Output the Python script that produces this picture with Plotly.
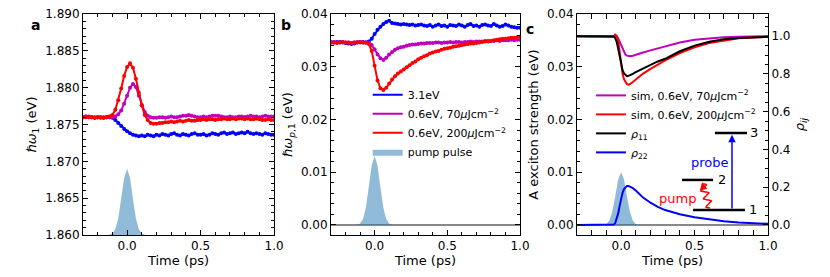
import numpy as np
import plotly.graph_objects as go

# ---------------- data ----------------
t_exp = np.round(np.arange(-0.30, 1.0001, 0.02), 2)  # 66 time points (ps)

a_blue = [1.8760, 1.8761, 1.8760, 1.8760, 1.8759, 1.8760, 1.8760, 1.8759, 1.8760, 1.8760,
          1.8759, 1.8756, 1.8752, 1.8748, 1.8744, 1.8741, 1.8738, 1.8736, 1.8735, 1.8734,
          1.8735, 1.8734, 1.8736, 1.8735, 1.8734, 1.8736, 1.8735, 1.8737, 1.8736, 1.8735,
          1.8737, 1.8738, 1.8736, 1.8735, 1.8737, 1.8736, 1.8735, 1.8737, 1.8738, 1.8736,
          1.8736, 1.8737, 1.8735, 1.8736, 1.8738, 1.8737, 1.8736, 1.8738, 1.8739, 1.8737,
          1.8738, 1.8739, 1.8737, 1.8738, 1.8739, 1.8738, 1.8740, 1.8738, 1.8737, 1.8738,
          1.8737, 1.8736, 1.8738, 1.8737, 1.8736, 1.8736]
a_purple = [1.8760, 1.8761, 1.8760, 1.8760, 1.8759, 1.8760, 1.8760, 1.8759, 1.8760, 1.8760,
            1.8760, 1.8761, 1.8764, 1.8769, 1.8778, 1.8789, 1.8800, 1.8805, 1.8801, 1.8789,
            1.8776, 1.8767, 1.8762, 1.8760, 1.8759, 1.8759, 1.8760, 1.8760, 1.8759, 1.8760,
            1.8761, 1.8760, 1.8760, 1.8761, 1.8762, 1.8762, 1.8763, 1.8762, 1.8761, 1.8760,
            1.8760, 1.8761, 1.8760, 1.8761, 1.8762, 1.8762, 1.8762, 1.8761, 1.8760, 1.8760,
            1.8761, 1.8760, 1.8760, 1.8761, 1.8761, 1.8760, 1.8761, 1.8762, 1.8761, 1.8761,
            1.8760, 1.8761, 1.8762, 1.8761, 1.8761, 1.8761]
a_red = [1.8760, 1.8760, 1.8761, 1.8760, 1.8760, 1.8760, 1.8759, 1.8760, 1.8760, 1.8761,
         1.8763, 1.8770, 1.8783, 1.8799, 1.8816, 1.8828, 1.8833, 1.8827, 1.8812, 1.8793,
         1.8776, 1.8763, 1.8756, 1.8752, 1.8751, 1.8751, 1.8752, 1.8752, 1.8753, 1.8753,
         1.8754, 1.8753, 1.8754, 1.8755, 1.8754, 1.8755, 1.8756, 1.8755, 1.8755, 1.8756,
         1.8756, 1.8757, 1.8756, 1.8757, 1.8757, 1.8756, 1.8757, 1.8757, 1.8758, 1.8757,
         1.8757, 1.8758, 1.8757, 1.8758, 1.8758, 1.8757, 1.8758, 1.8757, 1.8757, 1.8758,
         1.8757, 1.8756, 1.8756, 1.8757, 1.8756, 1.8756]

b_blue = [0.0347, 0.0346, 0.0347, 0.0347, 0.0346, 0.0345, 0.0344, 0.0343, 0.0344, 0.0346,
          0.0347, 0.0347, 0.0346, 0.0348, 0.0353, 0.0362, 0.0370, 0.0376, 0.0381, 0.0385,
          0.0387, 0.0383, 0.0382, 0.0381, 0.0380, 0.0381, 0.0380, 0.0379, 0.0380, 0.0378,
          0.0379, 0.0380, 0.0378, 0.0377, 0.0379, 0.0376, 0.0378, 0.0380, 0.0377, 0.0378,
          0.0376, 0.0379, 0.0378, 0.0377, 0.0380, 0.0378, 0.0376, 0.0379, 0.0381, 0.0377,
          0.0378, 0.0376, 0.0379, 0.0380, 0.0378, 0.0377, 0.0381, 0.0378, 0.0376, 0.0377,
          0.0380, 0.0378, 0.0376, 0.0375, 0.0374, 0.0374]
b_purple = [0.0346, 0.0347, 0.0346, 0.0346, 0.0347, 0.0346, 0.0346, 0.0345, 0.0346, 0.0347,
            0.0346, 0.0346, 0.0346, 0.0345, 0.0341, 0.0333, 0.0323, 0.0316, 0.0313, 0.0317,
            0.0323, 0.0328, 0.0332, 0.0335, 0.0337, 0.0338, 0.0340, 0.0341, 0.0342, 0.0342,
            0.0343, 0.0344, 0.0344, 0.0345, 0.0345, 0.0345, 0.0346, 0.0346, 0.0345, 0.0346,
            0.0346, 0.0347, 0.0346, 0.0347, 0.0347, 0.0346, 0.0347, 0.0347, 0.0348, 0.0347,
            0.0348, 0.0348, 0.0348, 0.0349, 0.0348, 0.0349, 0.0349, 0.0350, 0.0349, 0.0350,
            0.0350, 0.0350, 0.0351, 0.0350, 0.0351, 0.0351]
b_red = [0.0346, 0.0346, 0.0345, 0.0346, 0.0347, 0.0346, 0.0346, 0.0345, 0.0346, 0.0346,
         0.0347, 0.0346, 0.0346, 0.0343, 0.0330, 0.0302, 0.0274, 0.0259, 0.0256, 0.0260,
         0.0268, 0.0276, 0.0282, 0.0287, 0.0291, 0.0295, 0.0299, 0.0303, 0.0307, 0.0310,
         0.0314, 0.0317, 0.0320, 0.0322, 0.0325, 0.0327, 0.0329, 0.0330, 0.0332, 0.0334,
         0.0335, 0.0336, 0.0338, 0.0339, 0.0340, 0.0341, 0.0342, 0.0343, 0.0344, 0.0344,
         0.0345, 0.0346, 0.0347, 0.0348, 0.0349, 0.0349, 0.0350, 0.0351, 0.0352, 0.0353,
         0.0353, 0.0354, 0.0355, 0.0355, 0.0356, 0.0357]

t_sim = [-0.30, -0.10, -0.06, -0.05, -0.04, -0.03, -0.02, -0.01, 0.00, 0.01, 0.02, 0.03,
         0.04, 0.05, 0.06, 0.08, 0.10, 0.15, 0.20, 0.25, 0.30, 0.40, 0.50, 0.60, 0.70,
         0.80, 1.00]
sim_70 = [0.0358, 0.0358, 0.0358, 0.0358, 0.0358, 0.0357, 0.0354, 0.0348, 0.0340, 0.0333,
          0.0327, 0.0323, 0.0321, 0.0320, 0.0320, 0.0321, 0.0323, 0.0327, 0.0331, 0.0335,
          0.0339, 0.0346, 0.0351, 0.0354, 0.0356, 0.0357, 0.0358]
sim_200 = [0.0358, 0.0358, 0.0358, 0.0358, 0.0361, 0.0359, 0.0350, 0.0330, 0.0305, 0.0287,
           0.0276, 0.0270, 0.0267, 0.0266, 0.0267, 0.0271, 0.0276, 0.0287, 0.0296, 0.0304,
           0.0312, 0.0326, 0.0337, 0.0345, 0.0350, 0.0354, 0.0357]
rho_11 = [1.000, 1.000, 1.000, 0.998, 0.990, 0.970, 0.935, 0.890, 0.850, 0.820, 0.803,
          0.793, 0.788, 0.790, 0.793, 0.800, 0.810, 0.830, 0.850, 0.866, 0.880, 0.920,
          0.950, 0.970, 0.983, 0.990, 0.997]
rho_22 = [0.000, 0.000, 0.000, 0.002, 0.010, 0.030, 0.060, 0.100, 0.140, 0.170, 0.190,
          0.202, 0.207, 0.207, 0.204, 0.195, 0.183, 0.145, 0.118, 0.096, 0.079, 0.057,
          0.041, 0.029, 0.020, 0.013, 0.006]

pulse_t = [-0.14, -0.12, -0.10, -0.08, -0.06, -0.04, -0.02, 0.00, 0.02, 0.04, 0.06, 0.08,
           0.10, 0.12, 0.14]
pulse_shape = [0.0, 0.004, 0.021, 0.085, 0.25, 0.54, 0.86, 1.0, 0.86, 0.54, 0.25, 0.085,
               0.021, 0.004, 0.0]
pulse_amp_a, pulse_base_a = 0.009, 1.860
pulse_amp_b = 0.0131
pulse_amp_c = 0.0100

legend_b = ["3.1eV", "0.6eV, 70<i>μ</i>Jcm<sup>−2</sup>", "0.6eV, 200<i>μ</i>Jcm<sup>−2</sup>", "pump pulse"]
legend_c = ["sim, 0.6eV, 70<i>μ</i>Jcm<sup>−2</sup>", "sim, 0.6eV, 200<i>μ</i>Jcm<sup>−2</sup>",
            "<i>ρ</i><sub>11</sub>", "<i>ρ</i><sub>22</sub>"]

# ---------------- style ----------------
BLUE, PURPLE, RED, BLACK = "#0000ff", "#bf00bf", "#ff0000", "#000000"
PULSE = "rgba(31,119,180,0.5)"
FONT = "DejaVu Sans"

fig = go.Figure()

def exp_traces(x, y, color, xa, ya, name=None, legend=None, show=False):
    return [go.Scatter(x=x, y=y, mode="lines", xaxis=xa, yaxis=ya,
                       line=dict(color=color, width=2), name=name, legend=legend, showlegend=show),
            go.Scatter(x=x, y=y, mode="markers", xaxis=xa, yaxis=ya,
                       marker=dict(color=color, size=4), showlegend=False)]

# panel a
pa = [pulse_base_a + pulse_amp_a * s for s in pulse_shape]
fig.add_trace(go.Scatter(x=pulse_t, y=pa, mode="lines", fill="tozeroy", fillcolor=PULSE,
                         line=dict(width=0, color=PULSE), xaxis="x", yaxis="y", showlegend=False))
for tr in (exp_traces(t_exp, a_blue, BLUE, "x", "y") + exp_traces(t_exp, a_purple, PURPLE, "x", "y")
           + exp_traces(t_exp, a_red, RED, "x", "y")):
    fig.add_trace(tr)

# panel b
for tr in (exp_traces(t_exp, b_blue, BLUE, "x2", "y2", legend_b[0], "legend", True)
           + exp_traces(t_exp, b_purple, PURPLE, "x2", "y2", legend_b[1], "legend", True)
           + exp_traces(t_exp, b_red, RED, "x2", "y2", legend_b[2], "legend", True)):
    fig.add_trace(tr)
fig.add_trace(go.Scatter(x=pulse_t, y=[pulse_amp_b * s for s in pulse_shape], mode="lines",
                         fill="tozeroy", fillcolor=PULSE, line=dict(width=0, color=PULSE),
                         xaxis="x2", yaxis="y2", name=legend_b[3], legend="legend"))

# panel c
fig.add_trace(go.Scatter(x=pulse_t, y=[pulse_amp_c * s for s in pulse_shape], mode="lines",
                         fill="tozeroy", fillcolor=PULSE, line=dict(width=0, color=PULSE),
                         xaxis="x3", yaxis="y3", showlegend=False))
fig.add_trace(go.Scatter(x=t_sim, y=sim_70, mode="lines", line=dict(color=PURPLE, width=2),
                         xaxis="x3", yaxis="y3", name=legend_c[0], legend="legend2"))
fig.add_trace(go.Scatter(x=t_sim, y=sim_200, mode="lines", line=dict(color=RED, width=2),
                         xaxis="x3", yaxis="y3", name=legend_c[1], legend="legend2"))
fig.add_trace(go.Scatter(x=t_sim, y=rho_11, mode="lines", line=dict(color=BLACK, width=2),
                         xaxis="x3", yaxis="y4", name=legend_c[2], legend="legend2"))
fig.add_trace(go.Scatter(x=t_sim, y=rho_22, mode="lines", line=dict(color=BLUE, width=2),
                         xaxis="x3", yaxis="y4", name=legend_c[3], legend="legend2"))

# wavy pump arrow (decoration) in pixel space then mapped to data
px_per_ps = 191 / 1.3
px_per_y = 211 / 0.04
p0 = np.array([0.605 * px_per_ps, 0.0032 * px_per_y])
p1 = np.array([0.553 * px_per_ps, 0.0078 * px_per_y])
s = np.linspace(0, 1, 80)
d = p1 - p0
L = np.hypot(*d)
nvec = np.array([-d[1], d[0]]) / L
pts = p0[None, :] + s[:, None] * d[None, :] + (3.5 * np.sin(2 * np.pi * 3 * s))[:, None] * nvec[None, :]
fig.add_trace(go.Scatter(x=pts[:, 0] / px_per_ps, y=pts[:, 1] / px_per_y, mode="lines",
                         line=dict(color=RED, width=1.5), xaxis="x3", yaxis="y3",
                         showlegend=False, hoverinfo="skip"))

# ---------------- axes ----------------
tickfont = dict(family=FONT, size=12, color="black")
titlefont = dict(family=FONT, size=13, color="black")
def xax(domain, anchor):
    return dict(domain=domain, anchor=anchor, range=[-0.3, 1.0], tickvals=[0, 0.5, 1.0],
                tickformat=".1f", ticks="inside", ticklen=5, tickcolor="black",
                showline=True, linecolor="black", linewidth=1, mirror="allticks",
                showgrid=False, zeroline=False, tickfont=tickfont,
                minor=dict(dtick=0.1, tick0=0, ticks="inside", ticklen=3, tickcolor="black"),
                title=dict(text="Time (ps)", font=titlefont, standoff=3))

YD = [0.1516, 0.9495]
fig.update_layout(
    xaxis=xax([0.1000, 0.3302], "y"),
    xaxis2=xax([0.3988, 0.6265], "y2"),
    xaxis3=xax([0.6952, 0.9253], "y3"),
    yaxis=dict(domain=YD, anchor="x", range=[1.860, 1.890], dtick=0.005, tickformat=".3f",
               ticks="inside", ticklen=5, tickcolor="black", showline=True, linecolor="black",
               mirror="allticks", showgrid=False, zeroline=False, tickfont=tickfont,
               minor=dict(dtick=0.001, ticks="inside", ticklen=3, tickcolor="black"),
               title=dict(text="<i>ℏω</i><sub>1</sub> (eV)", font=titlefont, standoff=5)),
    yaxis2=dict(domain=YD, anchor="x2", range=[-0.0019, 0.04], dtick=0.01, tickformat=".2f",
                ticks="inside", ticklen=5, tickcolor="black", showline=True, linecolor="black",
                mirror="allticks", showgrid=False, zeroline=False, tickfont=tickfont,
                minor=dict(dtick=0.002, ticks="inside", ticklen=3, tickcolor="black"),
                title=dict(text="<i>ℏω</i><sub><i>p</i>,1</sub> (eV)", font=titlefont, standoff=5)),
    yaxis3=dict(domain=YD, anchor="x3", range=[-0.0019, 0.04], dtick=0.01, tickformat=".2f",
                ticks="inside", ticklen=5, tickcolor="black", showline=True, linecolor="black",
                showgrid=False, zeroline=False, tickfont=tickfont,
                minor=dict(dtick=0.002, ticks="inside", ticklen=3, tickcolor="black"),
                title=dict(text="A exciton strength (eV)", font=titlefont, standoff=5)),
    yaxis4=dict(overlaying="y3", anchor="x3", side="right", range=[-0.0019 / 0.0358, 0.04 / 0.0358],
                dtick=0.2, tickformat=".1f", ticks="inside", ticklen=5, tickcolor="black",
                showline=True, linecolor="black", showgrid=False, zeroline=False, tickfont=tickfont,
                minor=dict(dtick=0.05, ticks="inside", ticklen=3, tickcolor="black"),
                title=dict(text="<i>ρ<sub>ij</sub></i>", font=titlefont, standoff=5)),
    width=830, height=277, margin=dict(l=0, r=0, t=0, b=0, autoexpand=False),
    paper_bgcolor="white", plot_bgcolor="white",
    font=dict(family=FONT, size=12, color="black"),
    legend=dict(x=0.443, y=0.71, xanchor="left", yanchor="top", bgcolor="rgba(0,0,0,0)",
                font=dict(family=FONT, size=11), itemwidth=30, tracegroupgap=0),
    legend2=dict(x=0.712, y=0.708, xanchor="left", yanchor="top", bgcolor="rgba(0,0,0,0)",
                 font=dict(family=FONT, size=11), itemwidth=30, tracegroupgap=0),
    showlegend=True,
)

# zero lines
for xr, yr in [("x2", "y2"), ("x3", "y3")]:
    fig.add_shape(type="line", xref=f"{xr} domain", yref=yr, x0=0, x1=1, y0=0, y1=0,
                  line=dict(color="#606060", width=1.3), layer="below")

# energy level diagram
levels = [(0.49, 0.843, 0.00285, "1", 0.895), (0.415, 0.626, 0.00854, "2", 0.69),
          (0.639, 0.857, 0.01746, "3", 0.905)]
for x0, x1, yv, lab, lx in levels:
    fig.add_shape(type="line", xref="x3", yref="y3", x0=x0, x1=x1, y0=yv, y1=yv,
                  line=dict(color="black", width=2.5))
    fig.add_annotation(x=lx, y=yv, xref="x3", yref="y3", text=lab, showarrow=False,
                       font=dict(family=FONT, size=13, color="black"))
fig.add_annotation(x=0.755, y=0.0171, ax=0.755, ay=0.00285, xref="x3", yref="y3",
                   axref="x3", ayref="y3", text="", showarrow=True, arrowhead=2,
                   arrowsize=1, arrowwidth=1.5, arrowcolor=BLUE)
fig.add_annotation(x=0.551, y=0.0081, ax=0.558, ay=0.0072, xref="x3", yref="y3",
                   axref="x3", ayref="y3", text="", showarrow=True, arrowhead=2,
                   arrowsize=1, arrowwidth=1.5, arrowcolor=RED)
fig.add_annotation(x=0.605, y=0.0118, xref="x3", yref="y3", text="probe", showarrow=False,
                   font=dict(family=FONT, size=13, color=BLUE))
fig.add_annotation(x=0.385, y=0.0051, xref="x3", yref="y3", text="pump", showarrow=False,
                   font=dict(family=FONT, size=13, color=RED))

# panel letters
for lx, ly, lab in [(29, 15, "a"), (286, 15, "b"), (530, 19, "c")]:
    fig.add_annotation(x=lx / 830, y=1 - ly / 277, xref="paper", yref="paper", text=f"<b>{lab}</b>",
                       showarrow=False, font=dict(family=FONT, size=14, color="black"))

fig.write_html("out.html", config={"displayModeBar": False},
               post_script="document.body.style.margin='0';")
